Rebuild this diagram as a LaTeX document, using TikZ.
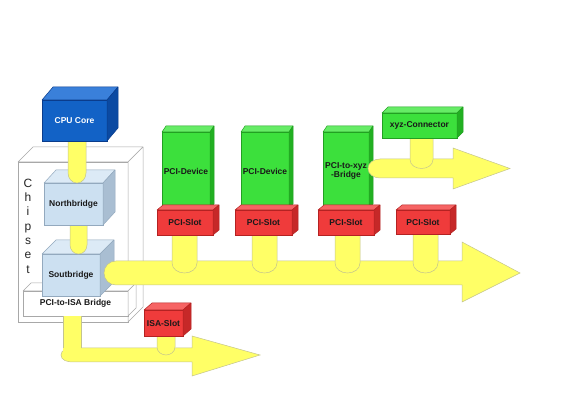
\documentclass[tikz,border=0pt]{standalone}
\usepackage{fontspec}
\setmainfont{Liberation Sans}
\usetikzlibrary{calc}
\definecolor{cpuF}{HTML}{1262C6}
\definecolor{cpuT}{HTML}{3A80DA}
\definecolor{cpuS}{HTML}{0B4AA2}
\definecolor{cpuE}{HTML}{0A3C8C}
\definecolor{lbF}{HTML}{CCE0F1}
\definecolor{lbT}{HTML}{DCEAF6}
\definecolor{lbS}{HTML}{A9BED2}
\definecolor{lbE}{HTML}{93A9BE}
\definecolor{grF}{HTML}{3CE03C}
\definecolor{grT}{HTML}{66EC66}
\definecolor{grS}{HTML}{22B022}
\definecolor{grE}{HTML}{22A022}
\definecolor{rdF}{HTML}{EF3B3B}
\definecolor{rdT}{HTML}{F66464}
\definecolor{rdS}{HTML}{C62828}
\definecolor{rdE}{HTML}{B42222}
\definecolor{tubeY}{HTML}{FFFF66}
\definecolor{tubeE}{HTML}{C4C48E}
\definecolor{chipE}{HTML}{A8A8A8}
\tikzset{
  face/.style={anchor=north west, inner sep=0pt, outer sep=0pt, line width=0.5pt,
    font=\bfseries\fontsize{8.5}{9.8}\selectfont, text=black!90, align=center},
  tube/.style={fill=tubeY, draw=tubeE, line width=0.5pt},
  letter/.style={font=\fontsize{12}{14.3}\selectfont, align=center, inner sep=0pt, text=black!85},
}
\newcommand{\boxsides}[6]{%
  \filldraw[fill=#4, draw=#6, line width=0.5pt, line join=round] (#1.north west) -- ($(#1.north west)+(#2,#3)$) -- ($(#1.north east)+(#2,#3)$) -- (#1.north east) -- cycle;
  \filldraw[fill=#5, draw=#6, line width=0.5pt, line join=round] (#1.north east) -- ($(#1.north east)+(#2,#3)$) -- ($(#1.south east)+(#2,#3)$) -- (#1.south east) -- cycle;}
% #1 x left, #2 y top (hidden under the box above), #3 width, #4 target, #5 curve height
\newcommand{\dropT}[5]{%
  \coordinate (dA) at (#1,#2);
  \filldraw[tube] (dA) -- ($(dA |- #4)+(0,-#5)$) to[out=-90,in=180] ($(dA |- #4)+(#3/2,0)$) to[out=0,in=-90] ($(dA |- #4)+(#3,-#5)$) -- ($(dA)+(#3,0)$);}
\newcommand{\busH}[8]{%
  \coordinate (#1) at (#2,{(#3+#4)/2});
  \filldraw[tube, line join=miter] (#5,#3) -- (#2+12,#3) to[out=180,in=90] (#1) to[out=-90,in=180] (#2+12,#4) -- (#5,#4) -- (#5,#7) -- (#8,{(#3+#4)/2}) -- (#5,#6) -- cycle;}
\begin{document}
\begin{tikzpicture}[x=1pt,y=-1pt]
\useasboundingbox (0,0) rectangle (581,411);
\fill[white] (0,0) rectangle (581,411);

% Chipset frame
\node[draw=chipE, fill=white, anchor=north west, inner sep=0pt, outer sep=0pt, line width=0.6pt,
  minimum width=110pt, minimum height=160pt] (chip) at (18,162) {};
\boxsides{chip}{15}{-15}{white}{white}{chipE}
\node[letter] (chiptxt) at (28,226) {C\\h\\i\\p\\s\\e\\t};

% PCI-to-ISA bridge
\node[face, draw=chipE, fill=white, minimum width=105pt, minimum height=25pt] (isab) at (23,291) {\raisebox{-3pt}{PCI-to-ISA Bridge}};
\boxsides{isab}{8}{-8}{white}{white}{chipE}

% ISA bus
\busH{busI}{61}{348}{362}{192}{336}{376}{260}
\coordinate (iA) at ([xshift=40pt]isab.south west);
\fill[tubeY] (iA) rectangle ($(iA |- busI)+(18,0)$);
\draw[tubeE, line width=0.5pt] (iA) -- ($(iA |- busI)+(0,-7)$);
\draw[tubeE, line width=0.5pt] ($(iA)+(18,0)$) -- ($(iA |- busI)+(18,-7)$);

% ISA slot
\dropT{157}{325}{18}{busI}{8}
\node[face, draw=rdE, fill=rdF, minimum width=39pt, minimum height=26pt] (isas) at (144,310) {ISA-Slot};
\boxsides{isas}{8}{-7}{rdT}{rdS}{rdE}

% Southbridge
\node[face, draw=lbE, fill=lbF, minimum width=58pt, minimum height=42pt] (sb) at (42,254) {Soutbridge};
\boxsides{sb}{14}{-14}{lbT}{lbS}{lbE}

% Northbridge
\dropT{70}{215}{17}{sb.north}{9}
\node[face, draw=lbE, fill=lbF, minimum width=59pt, minimum height=42pt] (nb) at (44,183) {Northbridge};
\boxsides{nb}{12}{-13}{lbT}{lbS}{lbE}

% CPU
\dropT{68}{130}{18}{nb.north}{10}
\node[face, draw=cpuE, fill=cpuF, text=white, minimum width=65pt, minimum height=41pt] (cpu) at (42,100) {CPU Core};
\boxsides{cpu}{11}{-13}{cpuT}{cpuS}{cpuE}

% PCI bus
\busH{busP}{104}{261}{285}{462}{242}{302}{520}

% PCI devices
\node[face, draw=grE, fill=grF, minimum width=48pt, minimum height=78pt] (dev1) at (162,132) {PCI-Device};
\boxsides{dev1}{4}{-6}{grT}{grS}{grE}
\node[face, draw=grE, fill=grF, minimum width=48pt, minimum height=78pt] (dev2) at (241,132) {PCI-Device};
\boxsides{dev2}{4}{-6}{grT}{grS}{grE}
\node[face, draw=grE, fill=grF, minimum width=46pt, minimum height=78pt] (dev3) at (323,132) {PCI-to-xyz\\-Bridge};
\boxsides{dev3}{4}{-6}{grT}{grS}{grE}

% PCI slots
\dropT{172}{225}{25}{busP}{10}
\dropT{252}{225}{25}{busP}{10}
\dropT{335}{225}{25}{busP}{10}
\dropT{413}{225}{25}{busP}{10}
\node[face, draw=rdE, fill=rdF, minimum width=56pt, minimum height=25pt] (ps1) at (157,210) {PCI-Slot};
\boxsides{ps1}{6}{-5}{rdT}{rdS}{rdE}
\node[face, draw=rdE, fill=rdF, minimum width=57pt, minimum height=25pt] (ps2) at (235,210) {PCI-Slot};
\boxsides{ps2}{6}{-5}{rdT}{rdS}{rdE}
\node[face, draw=rdE, fill=rdF, minimum width=56pt, minimum height=25pt] (ps3) at (318,210) {PCI-Slot};
\boxsides{ps3}{6}{-5}{rdT}{rdS}{rdE}
\node[face, draw=rdE, fill=rdF, minimum width=54pt, minimum height=24pt] (ps4) at (396,210) {PCI-Slot};
\boxsides{ps4}{6}{-5}{rdT}{rdS}{rdE}

% xyz bus and connector
\busH{busX}{368}{159}{178}{453}{148}{189}{510}
\dropT{410}{128}{23}{busX}{9}
\node[face, draw=grE, fill=grF, minimum width=75pt, minimum height=25pt] (xyz) at (382,113) {xyz-Connector};
\boxsides{xyz}{6}{-6}{grT}{grS}{grE}
\end{tikzpicture}
\end{document}
